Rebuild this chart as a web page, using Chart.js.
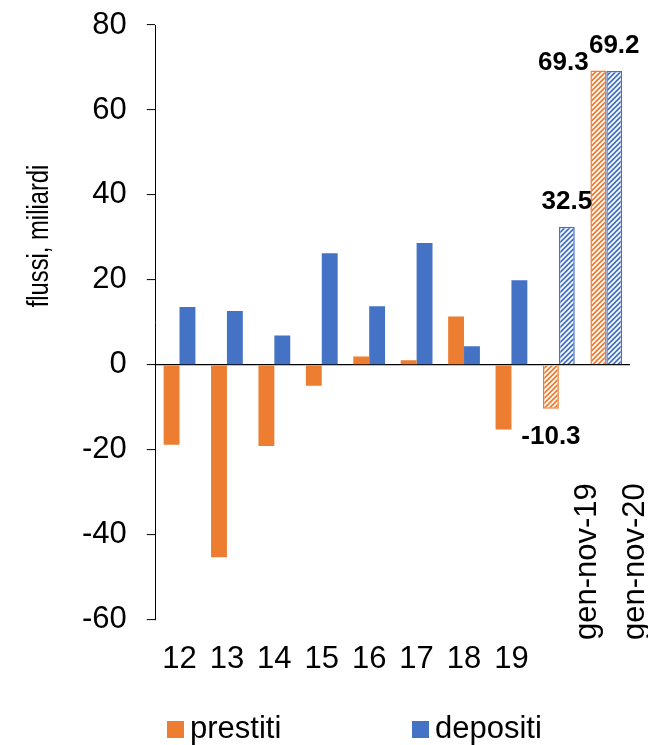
<!DOCTYPE html>
<html>
<head>
<meta charset="utf-8">
<title>flussi</title>
<script src="https://cdn.jsdelivr.net/npm/chart.js@4.4.1/dist/chart.umd.min.js"></script>
<style>
  html, body { margin: 0; padding: 0; background: #fff; }
  #wrap { width: 648px; height: 745px; position: relative; }
</style>
</head>
<body>
<div id="wrap"><canvas id="flussiChart"></canvas></div>
<script>
// ========== DATA ==========
const categories = ["12", "13", "14", "15", "16", "17", "18", "19", "gen-nov-19", "gen-nov-20"];
const prestiti = [-18.8, -45.3, -19.1, -4.9, 2.0, 1.1, 11.4, -15.2, -10.3, 69.3];
const depositi = [13.6, 12.7, 6.9, 26.3, 13.8, 28.7, 4.4, 19.9, 32.5, 69.2];
// periods shown hatched, with their value written next to the bar
const partialYears = ["gen-nov-19", "gen-nov-20"];
const yMin = -60;
const yMax = 80;
const yStep = 20;
const yTitle = "flussi, miliardi";

const ORANGE = "#ED7D31";
const BLUE = "#4472C4";
const FONT = "'Liberation Sans', Arial, sans-serif";

Chart.defaults.font.family = FONT;
Chart.defaults.color = "#000";

// ========== HATCH PATTERN ==========
function makeHatch(color) {
  const size = 5;
  const tile = document.createElement("canvas");
  tile.width = size;
  tile.height = size;
  const g = tile.getContext("2d");
  g.fillStyle = color;
  g.fillRect(0, 0, size, size);
  g.strokeStyle = "#fff";
  g.lineWidth = 1.7;
  g.beginPath();
  g.moveTo(0, size); g.lineTo(size, 0);
  g.moveTo(-size, size); g.lineTo(size, -size);
  g.moveTo(0, 2 * size); g.lineTo(2 * size, 0);
  g.stroke();
  return g.createPattern(tile, "repeat");
}

function isPartial(i) {
  return partialYears.includes(categories[i]);
}

function barStyle(color) {
  const hatch = makeHatch(color);
  return {
    backgroundColor: (ctx) => (isPartial(ctx.dataIndex) ? hatch : color),
    borderColor: color,
    borderWidth: (ctx) => (isPartial(ctx.dataIndex) ? 1.5 : 0)
  };
}

// ========== PLUGINS ==========
// value labels on the hatched bars
const valueLabels = {
  id: "valueLabels",
  afterDatasetsDraw(chart) {
    const { ctx } = chart;
    ctx.save();
    ctx.font = "bold 26px " + FONT;
    ctx.fillStyle = "#000";
    ctx.textAlign = "center";
    ctx.textBaseline = "middle";
    chart.data.datasets.forEach((ds, di) => {
      chart.getDatasetMeta(di).data.forEach((bar, i) => {
        if (!isPartial(i)) return;
        const v = ds.data[i];
        let x = bar.x;
        let y = v >= 0 ? bar.y - 25 : bar.y + 28;
        // last prestiti label sits left of its bar, the two totals are equal
        if (di === 0 && i === categories.length - 1) {
          x -= 35;
          y += 17;
        }
        ctx.fillText(v.toFixed(1), x, y);
      });
    });
    ctx.restore();
  }
};

// vertical category labels for the partial periods
const rotatedTicks = {
  id: "rotatedTicks",
  afterDraw(chart) {
    const { ctx } = chart;
    const xs = chart.scales.x;
    ctx.save();
    ctx.font = "31px " + FONT;
    ctx.fillStyle = "#000";
    ctx.textAlign = "left";
    ctx.textBaseline = "middle";
    categories.forEach((c, i) => {
      if (!isPartial(i)) return;
      ctx.save();
      ctx.translate(xs.getPixelForTick(i) + 29, 640);
      ctx.rotate(-Math.PI / 2);
      ctx.fillText(c, 0, 0);
      ctx.restore();
    });
    ctx.restore();
  }
};

// y axis title, set a little narrow
const axisTitle = {
  id: "axisTitle",
  afterDraw(chart) {
    const { ctx } = chart;
    ctx.save();
    ctx.font = "29px " + FONT;
    ctx.fillStyle = "#000";
    ctx.textAlign = "center";
    ctx.textBaseline = "middle";
    ctx.translate(40, 236);
    ctx.rotate(-Math.PI / 2);
    ctx.scale(0.82, 1);
    ctx.fillText(yTitle, 0, 0);
    ctx.restore();
  }
};

// legend row under the chart
const bottomLegend = {
  id: "bottomLegend",
  afterDraw(chart) {
    const { ctx } = chart;
    const starts = [167, 412];
    const cy = 729;
    ctx.save();
    ctx.font = "31px " + FONT;
    ctx.textAlign = "left";
    ctx.textBaseline = "middle";
    chart.data.datasets.forEach((ds, di) => {
      const x = starts[di];
      ctx.fillStyle = ds.borderColor;
      ctx.fillRect(x, cy - 8, 17, 17);
      ctx.fillStyle = "#000";
      ctx.fillText(ds.label, x + 23, cy);
    });
    ctx.restore();
  }
};

// ========== CHART ==========
new Chart(document.getElementById("flussiChart"), {
  type: "bar",
  data: {
    labels: categories,
    datasets: [
      Object.assign({ label: "prestiti", data: prestiti }, barStyle(ORANGE)),
      Object.assign({ label: "depositi", data: depositi }, barStyle(BLUE))
    ]
  },
  options: {
    responsive: true,
    maintainAspectRatio: false,
    animation: false,
    datasets: {
      bar: { categoryPercentage: 0.67, barPercentage: 1.0 }
    },
    layout: {
      padding: { left: 62, right: 18, top: 25, bottom: 54 }
    },
    plugins: {
      legend: { display: false },
      tooltip: { enabled: false }
    },
    scales: {
      x: {
        grid: { display: false },
        border: { display: false },
        ticks: {
          autoSkip: false,
          maxRotation: 0,
          padding: 13,
          font: { size: 31 },
          callback: (v, i) => (isPartial(i) ? "" : categories[i])
        }
      },
      y: {
        min: yMin,
        max: yMax,
        border: { display: true, color: "#000", width: 1 },
        grid: {
          drawOnChartArea: true,
          color: (ctx) => (ctx.tick && ctx.tick.value === 0 ? "#000" : "rgba(0,0,0,0)"),
          lineWidth: 1.2,
          tickColor: "#000",
          tickLength: 9,
          tickWidth: 1
        },
        ticks: {
          stepSize: yStep,
          padding: 20,
          font: { size: 31 }
        },
        // top/bottom room comes from layout.padding alone
        afterFit: (scale) => {
          scale.paddingTop = 0;
          scale.paddingBottom = 0;
        }
      }
    }
  },
  plugins: [valueLabels, rotatedTicks, axisTitle, bottomLegend]
});
</script>
</body>
</html>
